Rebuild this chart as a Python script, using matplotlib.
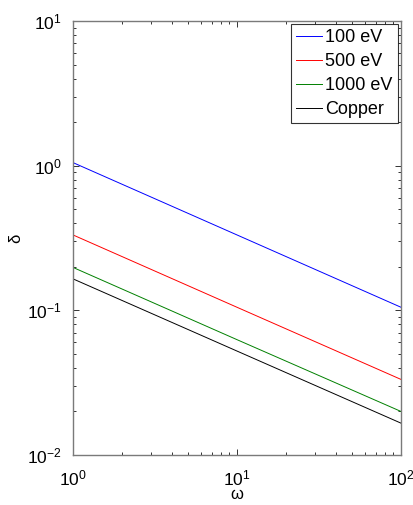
import math
import matplotlib
matplotlib.use("Agg")
import matplotlib.pyplot as plt
from matplotlib.ticker import LogLocator, FuncFormatter, NullFormatter

plt.rcParams['font.family'] = ['Liberation Sans', 'DejaVu Sans']
plt.rcParams['mathtext.fontset'] = 'custom'
plt.rcParams['mathtext.rm'] = 'Liberation Sans'
plt.rcParams['mathtext.it'] = 'Liberation Sans'

# Data (log-log straight lines)
omega = [1, 10, 100]
labels = ['100 eV', '500 eV', '1000 eV', 'Copper']
delta_100 = [1.05, 0.332, 0.105]
delta_500 = [0.332, 0.105, 0.0333]
delta_1000 = [0.198, 0.0627, 0.0200]
delta_copper = [0.165, 0.0523, 0.0166]
colors = ['#0000ff', '#ff0000', '#008000', '#000000']

fig = plt.figure(figsize=(4.14, 5.05), dpi=100)
ax = fig.add_axes([73/414, 1-455/505, (401-73)/414, (455-21)/505])

for ys, lab, c in zip([delta_100, delta_500, delta_1000, delta_copper], labels, colors):
    ax.plot(omega, ys, color=c, lw=0.7, label=lab)

ax.set_xscale('log')
ax.set_yscale('log')
ax.set_xlim(1, 100)
ax.set_ylim(0.01, 10)

fmt = FuncFormatter(lambda v, p: r'$\mathregular{10^{%d}}$' % round(math.log10(v)))
ax.xaxis.set_major_locator(LogLocator(base=10))
ax.yaxis.set_major_locator(LogLocator(base=10))
ax.xaxis.set_minor_locator(LogLocator(base=10, subs=range(2, 10)))
ax.yaxis.set_minor_locator(LogLocator(base=10, subs=range(2, 10)))
ax.xaxis.set_major_formatter(fmt)
ax.yaxis.set_major_formatter(fmt)
ax.xaxis.set_minor_formatter(NullFormatter())
ax.yaxis.set_minor_formatter(NullFormatter())

axcol = '#7a7a7a'
for s in ax.spines.values():
    s.set_color(axcol)
    s.set_linewidth(1.0)
ax.tick_params(which='both', direction='in', top=True, right=True, colors='#333333',
               labelcolor='black', labelsize=12.5)
ax.tick_params(which='major', length=4.5, width=0.7)
ax.tick_params(which='minor', length=2.5, width=0.7)
ax.tick_params(axis='y', pad=8)
ax.tick_params(axis='x', pad=10)

ax.set_xlabel('ω', fontsize=12, labelpad=-1)
ax.set_ylabel('δ', fontsize=12, labelpad=3)

leg = ax.legend(loc='upper right', bbox_to_anchor=(398/414, 1-24/505), bbox_transform=fig.transFigure,
                fontsize=13, frameon=True, fancybox=False, borderaxespad=0, borderpad=0.3,
                handlelength=1.4, handletextpad=0.2, labelspacing=0.38)
leg.get_frame().set_edgecolor('black')
leg.get_frame().set_linewidth(0.8)

fig.savefig('out.png', dpi=100)
